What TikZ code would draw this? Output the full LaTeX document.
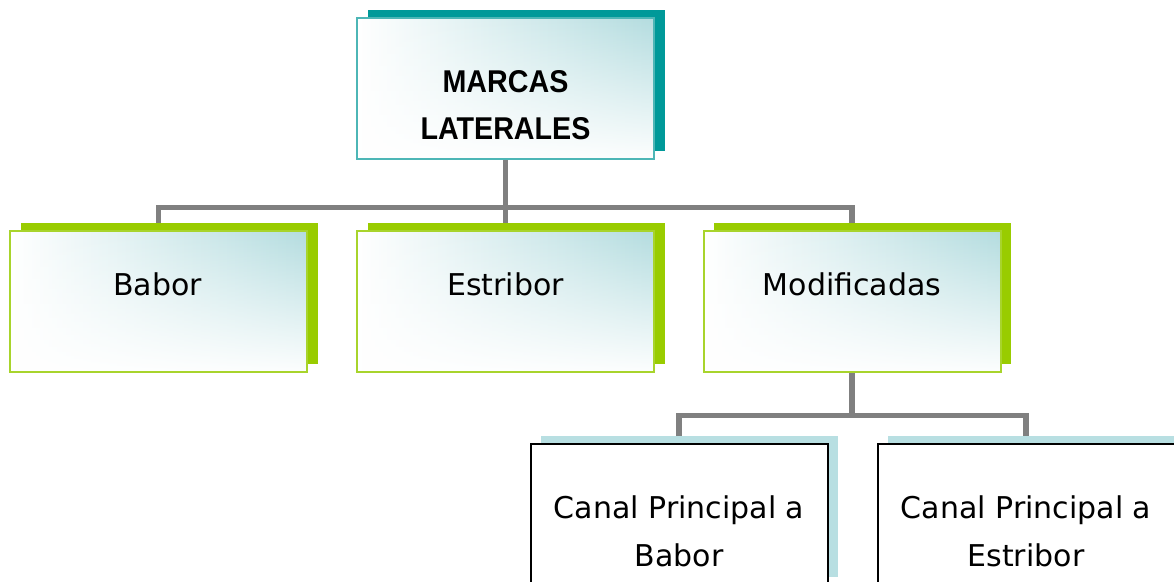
\documentclass[tikz,border=0pt]{standalone}
\usepackage{fontspec}
\setmainfont{DejaVu Sans}
\newfontfamily\titlefont[FakeStretch=0.91]{Liberation Sans}
\usetikzlibrary{shadows,fadings}
\definecolor{cTeal}{HTML}{009999}
\definecolor{cTealLine}{HTML}{4DB6B6}
\definecolor{cGreen}{HTML}{99CC00}
\definecolor{cGreenLine}{HTML}{A8D42C}
\definecolor{cShade}{HTML}{B3DCDF}
\definecolor{cLight}{HTML}{B8DFE2}
\definecolor{cConn}{HTML}{808080}
\tikzfading[name=fadeup, top color=transparent!100, middle color=transparent!65, bottom color=transparent!3]
\pgfdeclarelayer{background}
\pgfsetlayers{background,main}
\begin{document}
\begin{tikzpicture}[x=1pt,y=-1pt,
  boxbase/.style={rectangle, inner sep=0pt, minimum width=297pt, minimum height=141pt, line width=2pt},
  gradfill/.style={left color=white, right color=cShade,
    path picture={\fill[white, path fading=fadeup] (path picture bounding box.south west) rectangle (path picture bounding box.north east);}},
  shadowed/.style={general shadow={fill=#1, shadow xshift=10.5pt, shadow yshift=8pt}},
  topbox/.style={boxbase, draw=cTealLine, gradfill, shadowed=cTeal},
  greenbox/.style={boxbase, draw=cGreenLine, gradfill, shadowed=cGreen},
  leafbox/.style={boxbase, draw=black, fill=white, shadowed=cLight},
  lbl/.style={font=\fontsize{30}{48}\selectfont, inner sep=0pt, align=center},
  ttl/.style={font=\titlefont\bfseries\fontsize{31.5}{47}\selectfont, inner sep=0pt, align=center},
  conn/.style={draw=cConn, line width=5.5pt, line join=miter}
]
\useasboundingbox (0,0) rectangle (1174,581);
\clip (0,0) rectangle (1174,581);
\begin{pgfonlayer}{background}
\fill[white] (0,0) rectangle (1174,581);
\end{pgfonlayer}

% boxes
\node[topbox] (top) at (505.5,88) {};
\node[greenbox] (babor) at (158.5,301) {};
\node[greenbox] (estribor) at (505.5,301) {};
\node[greenbox] (modif) at (852,301) {};
\node[leafbox] (cbab) at (679,514) {};
\node[leafbox] (cest) at (1026,514) {};

% texts
\node[ttl] (topT) at (505.5,105.5) {MARCAS\\LATERALES};
\node[lbl, anchor=base] (baborT) at (157.5,295) {Babor};
\node[lbl, anchor=base] (estriborT) at (505.5,295) {Estribor};
\node[lbl, anchor=base] (modifT) at (852,295) {Modificadas};
\node[lbl] (cbabT) at (679,531) {Canal Principal a\\Babor};
\node[lbl] (cestT) at (1026,531) {Canal Principal a\\Estribor};

% connectors
\begin{pgfonlayer}{background}
\draw[conn] (top.south) -- ++(0,48) coordinate (j1);
\draw[conn] (j1) -| (babor.north);
\draw[conn] (j1) -| (modif.north);
\draw[conn] (j1) -- (estribor.north);
\draw[conn] (modif.south) -- ++(0,43) coordinate (j2);
\draw[conn] (j2) -| (cbab.north);
\draw[conn] (j2) -| (cest.north);
\end{pgfonlayer}
\end{tikzpicture}
\end{document}
